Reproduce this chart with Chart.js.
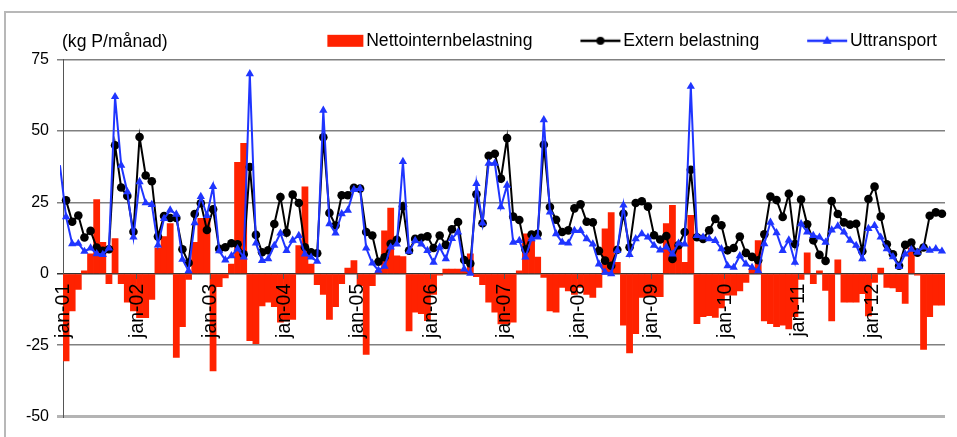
<!DOCTYPE html>
<html>
<head>
<meta charset="utf-8">
<script src="https://cdn.jsdelivr.net/npm/chart.js@4.4.1/dist/chart.umd.min.js"></script>
<style>
  html, body { margin: 0; padding: 0; background: #fff; }
  #wrap { width: 957px; height: 437px; }
</style>
</head>
<body>
<div id="wrap"><canvas id="c" width="957" height="437"></canvas></div>
<script>
// ---- data (kg P per month), Jan 2001 – Dec 2012 ----
const years = ['01','02','03','04','05','06','07','08','09','10','11','12'];
const monthNames = ['jan','feb','mar','apr','maj','jun','jul','aug','sep','okt','nov','dec'];
const unitLabel = '(kg P/månad)';
const seriesNames = ['Nettointernbelastning', 'Extern belastning', 'Uttransport'];
const yTicks = [-50, -25, 0, 25, 50, 75];

const nettointern = [
  -30.5, -13, -5.5, 1, 7, 26, 11, -3.5, 12.3, -3.5, -10, -13,
  -15.4, -15.4, -9, 9, 13, 17.6, -29.3, -18.5, -2, 11, 19.4, 19.4,
  -34, -4.5, -1.5, 3.4, 39, 45.7, -23.4, -24.5, -11.3, -10, -11.5, -17,
  -16.5, -16, 9.9, 30.4, 3.4, -3.8, -7.2, -16, -11.5, -3.5, 2, 4.6,
  -4.2, -28.3, -4.2, 1, 15, 23, 6.3, 6, -20, -13.5, -14, -16.4,
  -7.2, -0.5, 1.6, 1.6, 1.6, 1, 7, -1, -3.8, -10, -13.5, -17.6,
  -17.6, -17, 1, 14, 11.6, 5.8, -1.3, -13, -13.5, -4.8, -6, -7.2,
  -4.8, -7.2, -8.3, -4.8, 15.7, 21.4, 4, -18, -27.7, -21, -8.3, -8,
  -8, -8, 17.6, 24, 9.4, 4, 20.5, -17.5, -15, -14.7, -15.3, -12,
  -7.5, -7.5, -6, -3, 1.6, 11.6, -16.5, -17.5, -18.5, -18, -19.3, -15,
  -2, 7.3, -3.5, 1, -5.8, -16.5, 4.9, -10, -10, -10, -7, -14.8,
  -3, 2, -4.8, -5, -6.3, -10.4, 9, -0.5, -26.5, -15, -11, -11
];
const extern = [
  25.7, 18.2, 20.4, 12.7, 15, 9.2, 8, 8.6, 45, 30.2, 27.2, 14.7,
  47.9, 34.4, 32.4, 13, 20.2, 19.5, 19.5, 8.6, 3.8, 20.9, 24.7, 15.3,
  22.6, 8.7, 9.3, 10.7, 10.3, 6.8, 37.4, 13.6, 7.5, 8.2, 17.4, 26.9,
  14.4, 27.7, 24.8, 9.3, 7.5, 7.2, 47.8, 21.3, 16.9, 27.5, 27.5, 30.1,
  29.8, 14.6, 13.4, 4.2, 5.8, 10.5, 11.9, 23.6, 8.1, 12.2, 12.6, 13.1,
  9, 13.4, 10.1, 15.6, 18.1, 4.8, 3.6, 27.8, 17.7, 41.3, 42, 33.3,
  47.5, 20, 18.8, 8.5, 13.7, 14, 45.2, 23.4, 18.9, 14.6, 15.2, 22.9,
  24.3, 18.2, 18, 8, 4.6, 2.8, 8.4, 21, 9.3, 24.8, 25.4, 23.5,
  13.5, 12, 13.2, 5.2, 10, 14.6, 36.4, 12.8, 12.2, 15.2, 19.2, 17,
  8.2, 9, 13, 7.3, 5.9, 4.7, 13.8, 27, 25.8, 19.9, 28, 10.4,
  26, 17.3, 11.7, 6.6, 4.5, 25.5, 20.9, 18, 17.2, 17.5, 7.9, 26.2,
  30.5, 20, 10.3, 6.8, 2.8, 10.1, 10.9, 7.4, 9.2, 20.3, 21.5, 21
];
const uttransportDec00 = 38;
const uttransport = [
  19.9, 10.5, 10.6, 7.8, 9, 7, 6.7, 9, 62, 38, 28.7, 12.8,
  32.2, 24.8, 24.2, 10, 19.3, 22.3, 20.8, 5, 1, 17.8, 27, 20.4,
  30.5, 8, 4.8, 6.3, 8.7, 5.8, 70, 10.7, 4.6, 5.2, 9.9, 14.2,
  8.1, 11.7, 13.4, 6.9, 5.8, 4.3, 57.2, 17.5, 14.2, 21, 22.2, 29.5,
  29.8, 9, 3.7, 1.2, 2.6, 9.3, 10.4, 39.3, 7.8, 11.6, 10.4, 8.1,
  4, 9.3, 5.2, 12.3, 14.6, 1.6, 0.1, 31.6, 17.7, 38.7, 38.7, 23.4,
  31, 11, 11.6, 5.8, 12.2, 12.8, 53.9, 21.6, 14, 11, 10.7, 15.1,
  15.1, 12.2, 10.4, 3.4, 0.5, 0, 8.1, 24, 6.7, 12.2, 14, 12.8,
  9.9, 8.3, 9.3, 6.9, 10.7, 10.4, 65.6, 13.4, 12.8, 12.2, 11.6, 8.7,
  2.8, 2.2, 6.3, 3.4, 2.2, 1, 10.5, 18, 14.3, 8.1, 11.8, 4,
  17.5, 14.6, 13.4, 12.8, 11, 15.3, 16.7, 14.6, 11.7, 9.9, 5.2, 15.8,
  16.9, 12.8, 8.7, 5.9, 2.5, 6.9, 8.5, 7.5, 9.3, 8.2, 8.7, 7.9
];

// ---- categories (first one is Dec 2000, kept just off the left edge) ----
const categories = ['dec-00'];
years.forEach(y => monthNames.forEach(m => categories.push(m + '-' + y)));

const RED = '#ff2200', BLACK = '#000000', BLUE = '#1f35ff';
const FONT = '"Liberation Sans", Arial, sans-serif';

// legend icons (drawn as point-style images)
function makeIcon(kind) {
  const cv = document.createElement('canvas');
  cv.width = 94; cv.height = 16;
  const c = cv.getContext('2d');
  if (kind === 'bar') {
    c.fillStyle = RED; c.fillRect(54, 2, 36, 12);
  } else {
    const col = kind === 'circle' ? BLACK : BLUE;
    c.strokeStyle = col; c.lineWidth = 2.5;
    c.beginPath(); c.moveTo(50, 8); c.lineTo(90, 8); c.stroke();
    c.fillStyle = col;
    c.beginPath();
    if (kind === 'circle') { c.arc(70, 8, 4, 0, Math.PI * 2); }
    else { c.moveTo(70, 3); c.lineTo(74.5, 11); c.lineTo(65.5, 11); c.closePath(); }
    c.fill();
  }
  return cv;
}
const icons = [makeIcon('bar'), makeIcon('circle'), makeIcon('tri')];

const decor = {
  id: 'decor',
  beforeDraw(chart) {
    const c = chart.ctx;
    c.save();
    c.fillStyle = '#fff'; c.fillRect(0, 0, chart.width, chart.height);
    c.strokeStyle = '#b8b8b8'; c.lineWidth = 2;
    c.beginPath(); c.moveTo(5, chart.height); c.lineTo(5, 12); c.lineTo(chart.width, 12); c.stroke();
    c.restore();
  },
  afterDraw(chart) {
    const c = chart.ctx;
    c.save();
    c.font = '17.6px ' + FONT; c.fillStyle = '#000'; c.textBaseline = 'middle'; c.textAlign = 'left';
    c.fillText(unitLabel, 62, 42);
    c.restore();
  }
};

new Chart(document.getElementById('c'), {
  data: {
    labels: categories,
    datasets: [
      { type: 'bar', label: seriesNames[0], data: [null, ...nettointern],
        backgroundColor: RED, borderWidth: 0, barPercentage: 1, categoryPercentage: 1, order: 3 },
      { type: 'line', label: seriesNames[1], data: [null, ...extern],
        borderColor: BLACK, backgroundColor: BLACK, borderWidth: 2, tension: 0,
        pointStyle: 'circle', pointRadius: 4.3, pointBackgroundColor: BLACK, pointBorderWidth: 0,
        order: 2, clip: {left: 3, top: false, right: false, bottom: false} },
      { type: 'line', label: seriesNames[2], data: [uttransportDec00, ...uttransport],
        borderColor: BLUE, backgroundColor: BLUE, borderWidth: 2, tension: 0,
        pointStyle: 'triangle', pointRadius: ctx => ctx.dataIndex === 0 ? 0 : 4.8,
        pointBackgroundColor: BLUE, pointBorderWidth: 0,
        order: 1, clip: {left: 3, top: false, right: false, bottom: false} }
    ]
  },
  options: {
    responsive: false,
    animation: false,
    devicePixelRatio: 1,
    layout: { padding: { left: 5, right: 12, top: 24, bottom: 20.5 } },
    plugins: {
      tooltip: { enabled: false },
      legend: {
        position: 'top', align: 'end', maxHeight: 36,
        labels: {
          usePointStyle: true, pointStyleWidth: 74, padding: 8,
          font: { family: FONT, size: 17.6 }, color: '#000',
          sort: (a, b) => a.datasetIndex - b.datasetIndex,
          generateLabels(chart) {
            const items = Chart.defaults.plugins.legend.labels.generateLabels(chart);
            items.forEach(it => { it.pointStyle = icons[it.datasetIndex]; it.lineWidth = 0; });
            return items;
          }
        }
      }
    },
    scales: {
      x: {
        type: 'category',
        min: 'jan-01',
        position: { y: 0 },
        offset: true,
        border: { display: false },
        afterFit: s => { s.paddingLeft = 0; s.paddingRight = 0; },
        grid: {
          z: 1,
          offset: true, drawOnChartArea: false, drawTicks: true, tickLength: 5, lineWidth: 1,
          color: ctx => (ctx.index % 12 === 0 && ctx.index > 0 && ctx.index < 144) ? '#555' : 'rgba(0,0,0,0)'
        },
        ticks: {
          z: 2,
          autoSkip: false, minRotation: 90, maxRotation: 90, labelOffset: -2, padding: 5,
          font: { family: FONT, size: 19.5 }, color: '#000',
          callback: function (v, i) { return i % 12 === 0 ? this.getLabelForValue(v) : ''; }
        }
      },
      y: {
        min: -50, max: 75,
        afterFit: s => { s.width = 58; },
        afterBuildTicks: s => { s.ticks = yTicks.map(v => ({ value: v })); },
        border: { display: true, color: '#555', width: 1 },
        grid: {
          tickLength: 6,
          color: ctx => ctx.tick.value === -50 ? '#b4b4b4' : (ctx.tick.value === 0 ? '#333' : '#808080'),
          lineWidth: ctx => ctx.tick.value === -50 ? 3 : 1.5
        },
        ticks: { font: { family: FONT, size: 16 }, color: '#000', padding: 8 }
      }
    }
  },
  plugins: [decor]
});
</script>
</body>
</html>
